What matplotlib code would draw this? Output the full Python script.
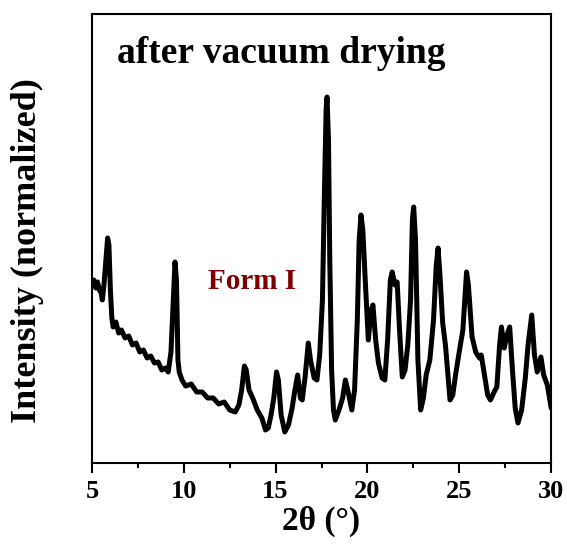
import matplotlib
matplotlib.use("Agg")
import matplotlib.pyplot as plt
from matplotlib.ticker import MultipleLocator

plt.rcParams['font.family'] = ['Liberation Serif', 'DejaVu Serif']
plt.rcParams['font.weight'] = 'bold'

# XRD pattern (2theta in degrees, intensity in arbitrary units)
two_theta = [
    5.00, 5.10, 5.20, 5.30, 5.40, 5.50, 5.56, 5.65, 5.75, 5.85, 5.92, 6.00, 6.08, 6.15,
    6.30, 6.45, 6.60, 6.80, 7.00, 7.20, 7.40, 7.60, 7.80, 8.00, 8.20, 8.40, 8.60, 8.80,
    9.00, 9.15, 9.30, 9.45, 9.52, 9.60, 9.68, 9.75, 9.90, 10.10, 10.40, 10.70, 11.00,
    11.30, 11.60, 11.90, 12.20, 12.50, 12.80, 13.00, 13.15, 13.30, 13.40, 13.55, 13.75,
    14.00, 14.25, 14.45, 14.60, 14.75, 14.90, 15.05, 15.15, 15.30, 15.50, 15.70, 15.90,
    16.05, 16.20, 16.35, 16.45, 16.60, 16.78, 16.90, 17.10, 17.25, 17.40, 17.55, 17.65,
    17.75, 17.80, 17.88, 17.95, 18.05, 18.15, 18.25, 18.45, 18.65, 18.80, 18.95, 19.15,
    19.30, 19.45, 19.55, 19.65, 19.75, 19.90, 20.05, 20.20, 20.30, 20.45, 20.60, 20.80,
    20.95, 21.10, 21.25, 21.35, 21.50, 21.62, 21.75, 21.90, 22.05, 22.20, 22.35, 22.45,
    22.52, 22.62, 22.75, 22.90, 23.05, 23.20, 23.40, 23.60, 23.75, 23.85, 23.95, 24.10,
    24.25, 24.50, 24.65, 24.80, 25.00, 25.20, 25.40, 25.50, 25.70, 25.90, 26.10, 26.20,
    26.35, 26.55, 26.70, 26.90, 27.05, 27.20, 27.30, 27.45, 27.60, 27.75, 27.90, 28.05,
    28.20, 28.40, 28.60, 28.75, 28.95, 29.10, 29.25, 29.45, 29.60, 29.80, 30.00,
]
intensity = [
    180, 183, 175, 181, 173, 170, 163, 178, 201, 225, 218, 173, 145, 136,
    141, 130, 133, 125, 127, 118, 120, 111, 113, 105, 107, 100, 101, 93,
    95, 91, 111, 173, 201, 183, 103, 91, 83, 77, 79, 71, 71,
    65, 65, 59, 61, 53, 51, 58, 73, 97, 93, 73, 65,
    53, 45, 33, 35, 48, 65, 91, 83, 48, 31, 38, 55,
    73, 88, 65, 63, 85, 120, 103, 85, 83, 108, 163, 263,
    353, 366, 323, 203, 93, 53, 43, 53, 65, 83, 71, 53,
    73, 143, 223, 248, 233, 176, 123, 153, 158, 123, 100, 85,
    83, 123, 183, 191, 178, 181, 133, 86, 93, 118, 163, 243,
    256, 223, 103, 53, 65, 88, 103, 143, 198, 215, 188, 140,
    118, 63, 68, 88, 111, 133, 191, 178, 126, 111, 105, 108,
    91, 68, 63, 71, 76, 118, 136, 115, 128, 136, 93, 55,
    40, 53, 85, 118, 148, 108, 91, 106, 88, 78, 56,
]

fig = plt.figure(figsize=(5.67, 5.48), dpi=100)
ax = fig.add_axes([0.1623, 0.1551, 0.8095, 0.8194])

ax.plot(two_theta, intensity, color='black', linewidth=3.6, solid_joinstyle='round')

ax.set_xlim(5, 30)
ax.set_ylim(0, 449)
ax.xaxis.set_major_locator(MultipleLocator(5))
ax.xaxis.set_minor_locator(MultipleLocator(2.5))
ax.tick_params(axis='x', which='major', direction='out', length=7, width=1.5,
               labelsize=19, pad=5)
ax.tick_params(axis='x', which='minor', direction='out', length=3.5, width=1.5)
ax.set_yticks([])
for s in ax.spines.values():
    s.set_linewidth(1.5)

ax.set_xlabel('2θ (°)', fontsize=24, fontweight='bold', labelpad=2)
ax.set_ylabel('Intensity (normalized)', fontsize=26, fontweight='bold')
ax.yaxis.set_label_coords(-0.105, 0.472)

ax.text(0.055, 0.891, 'after vacuum drying', transform=ax.transAxes,
        fontsize=27, fontweight='bold', va='baseline')
ax.text(0.253, 0.388, 'Form I', transform=ax.transAxes,
        fontsize=21, fontweight='bold', color='#7f0000', va='baseline')

fig.savefig('out.png', dpi=100)
